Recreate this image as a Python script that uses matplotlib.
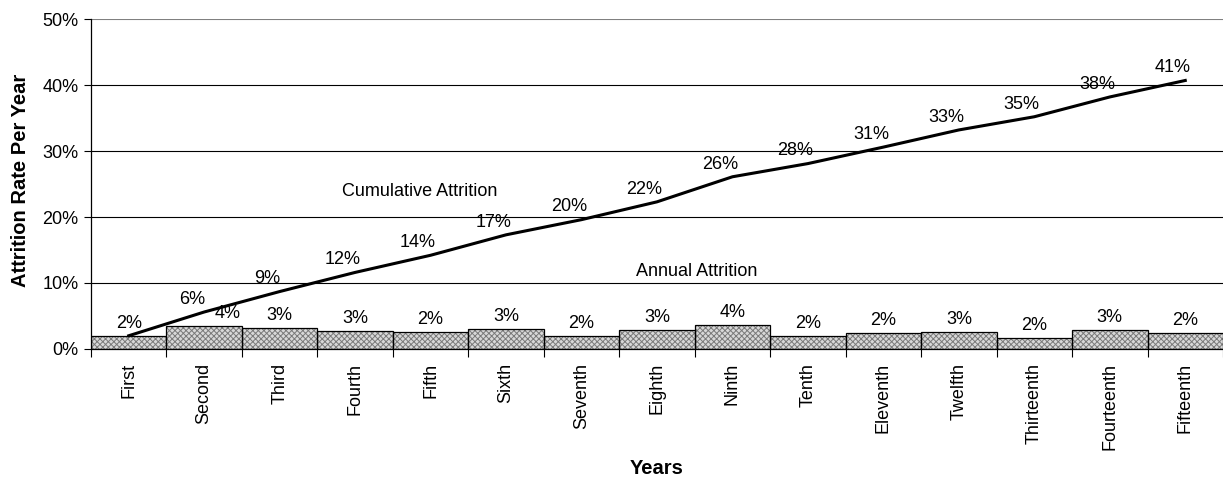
import matplotlib
matplotlib.use("Agg")
import matplotlib.pyplot as plt
from matplotlib.ticker import PercentFormatter

plt.rcParams['font.family'] = ['Liberation Sans', 'DejaVu Sans']
plt.rcParams['hatch.color'] = '#7a7a7a'
plt.rcParams['hatch.linewidth'] = 0.7

years = ["First", "Second", "Third", "Fourth", "Fifth", "Sixth", "Seventh",
         "Eighth", "Ninth", "Tenth", "Eleventh", "Twelfth", "Thirteenth",
         "Fourteenth", "Fifteenth"]
annual = [2.0, 3.5, 3.1, 2.7, 2.5, 3.0, 1.9, 2.8, 3.6, 1.9, 2.4, 2.6, 1.7, 2.9, 2.4]
cumulative = [2.0, 5.6, 8.7, 11.6, 14.2, 17.3, 19.6, 22.3, 26.1, 28.1, 30.6,
              33.2, 35.2, 38.2, 40.7]

fs = 13

fig = plt.figure(figsize=(12.23, 4.78), dpi=100)
ax = fig.add_axes([0.0744, 0.270, 0.9256, 0.690])

x = list(range(len(years)))

# hatched fill first, then black outlines on top
ax.bar(x, annual, width=1.0, color='#d8d8d8', hatch='xxxxxx', linewidth=0, zorder=2)
ax.bar(x, annual, width=1.0, fill=False, edgecolor='black', linewidth=0.9, zorder=3)
ax.plot(x, cumulative, color='black', linewidth=2.2, zorder=4)

for i, v in enumerate(annual):
    # second bar's label sits to the right so it clears the line
    dx = 17 if i == 1 else 0
    ax.annotate('{:.0f}%'.format(v), (i, v), xytext=(dx, 3), textcoords='offset points',
                ha='center', va='bottom', fontsize=fs)
for i, v in enumerate(cumulative):
    if i == 0:
        continue
    ax.annotate('{:.0f}%'.format(v), (i, v), xytext=(-9, 3), textcoords='offset points',
                ha='center', va='bottom', fontsize=fs)

ax.text(3.85, 23.8, "Cumulative Attrition", ha='center', va='center', fontsize=fs)
ax.text(7.53, 11.7, "Annual Attrition", ha='center', va='center', fontsize=fs)

ax.set_xlim(-0.5, len(years) - 0.5)
ax.set_ylim(0, 50)
ax.set_yticks(range(0, 51, 10))
ax.yaxis.set_major_formatter(PercentFormatter(decimals=0))
ax.grid(axis='y', color='black', linewidth=0.8, zorder=0)
ax.get_ygridlines()[-1].set_color('#808080')
ax.set_axisbelow(True)

ax.set_xticks(x)
ax.set_xticklabels(years, rotation=90, fontsize=fs)
ax.set_xticks([i - 0.5 for i in range(len(years) + 1)], minor=True)
ax.tick_params(axis='x', which='major', length=0, pad=10)
ax.tick_params(axis='x', which='minor', length=6, width=0.8, direction='out')
ax.tick_params(axis='y', length=5, width=0.8, labelsize=fs, direction='out', pad=4)

for side in ['top', 'right']:
    ax.spines[side].set_visible(False)
ax.spines['left'].set_linewidth(0.9)
ax.spines['bottom'].set_linewidth(0.9)

ax.set_ylabel("Attrition Rate Per Year", fontsize=14.5, fontweight='bold')
ax.set_xlabel("Years", fontsize=14.5, fontweight='bold')
ax.yaxis.set_label_coords(-0.054, 0.51)
ax.xaxis.set_label_coords(0.5, -0.335)

fig.savefig("out.png", dpi=100)
